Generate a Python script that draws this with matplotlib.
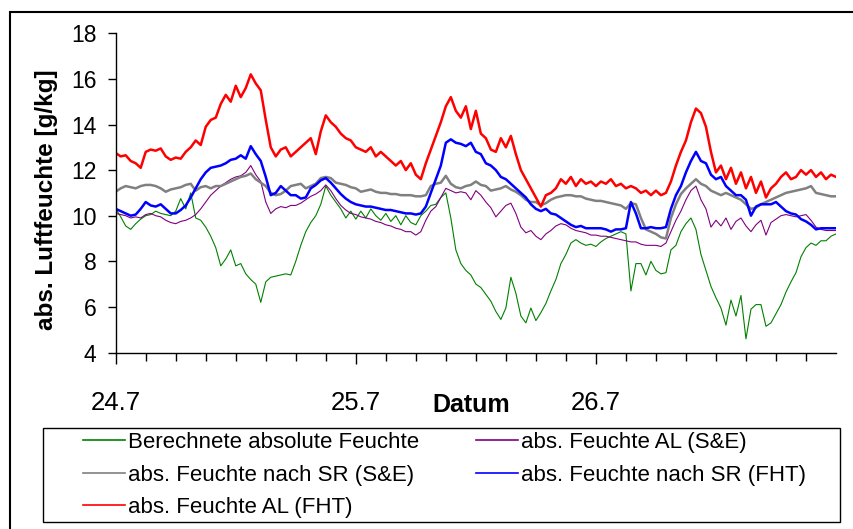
import numpy as np
import matplotlib
matplotlib.use("Agg")
import matplotlib.pyplot as plt
from matplotlib.patches import Rectangle
from matplotlib.lines import Line2D

# # Data (half-hourly readings, 24.7. 0:00 to 27.7. 0:00) ______________________________________________
hours = np.arange(0, 72.5, 0.5)

day_labels = ["24.7", "25.7", "26.7"]

# Berechnete absolute Feuchte
green = [10.3, 9.95, 9.55, 9.4, 9.65, 9.85, 10.0, 10.05, 10.2, 10.1, 10.05, 10.0,
         10.2, 10.75, 10.3, 11.0, 9.9, 9.8, 9.5, 9.1, 8.6, 7.8, 8.1, 8.5,
         7.8, 7.9, 7.45, 7.2, 7.0, 6.2, 7.1, 7.3, 7.35, 7.4, 7.45, 7.4,
         8.0, 8.7, 9.3, 9.7, 10.0, 10.5, 11.3, 10.9, 10.6, 10.3, 9.9, 10.2,
         9.85, 10.2, 9.9, 10.3, 10.0, 9.8, 10.1, 9.75, 10.0, 9.6, 10.0, 9.7,
         9.6, 10.0, 10.2, 10.45, 10.5, 10.8, 11.0, 9.9, 8.5, 7.9, 7.6, 7.4,
         7.0, 6.85, 6.55, 6.25, 5.8, 5.45, 5.95, 7.3, 6.6, 5.6, 5.3, 5.95,
         5.4, 5.75, 6.15, 6.7, 7.2, 7.9, 8.3, 8.8, 8.95, 8.8, 8.7, 8.75,
         8.65, 8.85, 9.0, 9.1, 9.2, 9.3, 9.2, 6.7, 7.9, 7.9, 7.4, 8.0,
         7.6, 7.45, 7.5, 8.5, 8.7, 9.3, 9.65, 9.9, 9.4, 8.3, 7.6, 6.9,
         6.4, 5.95, 5.2, 6.3, 5.6, 6.5, 4.6, 5.9, 6.1, 6.1, 5.15, 5.3,
         5.7, 6.1, 6.65, 7.1, 7.5, 8.2, 8.6, 8.8, 8.7, 8.9, 8.9, 9.1,
         9.2]

# abs. Feuchte AL (S&E)
purple = [10.1, 10.05, 10.0, 9.9, 9.95, 9.9, 10.05, 10.1, 10.0, 9.95, 9.8, 9.7,
          9.65, 9.75, 9.8, 9.9, 10.05, 10.3, 10.6, 10.9, 11.1, 11.3, 11.45, 11.6,
          11.7, 11.75, 11.9, 12.2, 11.8, 11.5, 10.6, 10.1, 10.3, 10.4, 10.35, 10.45,
          10.45, 10.55, 10.7, 10.85, 10.95, 11.1, 11.35, 11.1, 10.75, 10.45, 10.25, 10.1,
          10.05, 9.95, 9.9, 9.85, 9.75, 9.7, 9.6, 9.55, 9.45, 9.4, 9.3, 9.3,
          9.15, 9.3, 9.8, 10.2, 10.4, 10.8, 11.2, 11.1, 11.0, 11.05, 11.0, 10.7,
          11.1, 10.9, 10.6, 10.35, 9.95, 10.2, 10.45, 10.55, 10.1, 9.5, 9.25, 9.35,
          9.1, 8.95, 9.2, 9.35, 9.55, 9.65, 9.6, 9.45, 9.35, 9.3, 9.25, 9.15,
          9.15, 9.1, 9.1, 9.05, 9.0, 8.95, 8.9, 8.85, 8.85, 8.75, 8.7, 8.7,
          8.7, 8.65, 8.8, 9.3, 9.8, 10.2, 10.7, 11.1, 11.3, 10.7, 10.3, 9.5,
          9.8, 9.55, 9.9, 9.4, 9.75, 9.9, 9.55, 9.3, 9.6, 9.8, 9.15, 9.7,
          9.85, 10.0, 10.05, 10.0, 9.95, 10.0, 10.05, 9.8, 9.5, 9.4, 9.35, 9.35,
          9.35]

# abs. Feuchte nach SR (S&E)
gray = [11.05, 11.2, 11.3, 11.25, 11.2, 11.3, 11.35, 11.35, 11.3, 11.2, 11.05, 11.15,
        11.2, 11.25, 11.35, 11.4, 11.1, 11.25, 11.3, 11.2, 11.3, 11.3, 11.4, 11.5,
        11.6, 11.7, 11.75, 11.85, 11.6, 11.45, 11.3, 11.0, 10.9, 10.95, 11.1, 11.3,
        11.35, 11.4, 11.2, 11.3, 11.4, 11.65, 11.7, 11.65, 11.45, 11.4, 11.35, 11.25,
        11.2, 11.05, 11.1, 11.15, 11.05, 11.0, 11.0, 10.95, 10.95, 10.9, 10.9, 10.9,
        10.85, 10.85, 10.9, 11.3, 11.4, 11.45, 11.75, 11.4, 11.25, 11.2, 11.3, 11.35,
        11.5, 11.35, 11.3, 11.1, 11.15, 11.2, 11.3, 11.15, 11.05, 10.9, 10.7, 10.6,
        10.6, 10.45, 10.55, 10.7, 10.8, 10.85, 10.9, 10.9, 10.85, 10.85, 10.75, 10.7,
        10.65, 10.65, 10.6, 10.55, 10.5, 10.45, 10.3, 10.55, 10.5, 9.9, 9.4, 9.3,
        9.2, 9.05, 9.0, 9.9, 10.5, 10.95, 11.2, 11.4, 11.6, 11.4, 11.3, 11.1,
        11.0, 10.9, 11.0, 10.9, 10.8, 10.7, 10.5, 10.3, 10.35, 10.5, 10.6, 10.7,
        10.8, 10.9, 11.0, 11.05, 11.1, 11.15, 11.2, 11.3, 11.0, 10.95, 10.9, 10.85,
        10.85]

# abs. Feuchte nach SR (FHT)
blue = [10.3, 10.2, 10.1, 10.0, 10.05, 10.3, 10.6, 10.45, 10.4, 10.5, 10.3, 10.1,
        10.1, 10.25, 10.45, 10.8, 11.2, 11.6, 11.9, 12.1, 12.15, 12.2, 12.3, 12.45,
        12.5, 12.65, 12.5, 13.05, 12.7, 12.4, 11.7, 10.9, 11.0, 11.3, 11.1, 10.9,
        10.9, 10.75, 10.8, 11.2, 11.35, 11.55, 11.65, 11.45, 11.2, 10.95, 10.75, 10.6,
        10.5, 10.45, 10.4, 10.4, 10.35, 10.3, 10.25, 10.25, 10.2, 10.15, 10.1, 10.1,
        10.05, 10.1, 10.4, 11.0, 11.6, 12.2, 13.2, 13.35, 13.2, 13.15, 13.05, 13.2,
        12.8, 12.7, 12.3, 12.2, 12.0, 11.7, 11.6, 11.4, 11.2, 11.0, 10.8, 10.5,
        10.3, 10.2, 10.3, 10.1, 10.05, 9.9, 9.75, 9.6, 9.5, 9.55, 9.45, 9.45,
        9.45, 9.45, 9.4, 9.3, 9.4, 9.4, 9.45, 10.6, 10.1, 9.45, 9.45, 9.5,
        9.45, 9.45, 9.5, 10.3, 10.9, 11.3, 11.9, 12.4, 12.8, 12.4, 12.3, 11.8,
        11.6, 11.7, 11.3, 11.1, 10.9, 10.9, 10.7, 10.0, 10.4, 10.5, 10.5, 10.5,
        10.6, 10.4, 10.2, 10.1, 10.05, 9.85, 9.75, 9.6, 9.4, 9.45, 9.45, 9.45,
        9.45]

# abs. Feuchte AL (FHT)
red = [12.75, 12.6, 12.65, 12.4, 12.3, 12.1, 12.8, 12.9, 12.85, 12.95, 12.6, 12.45,
       12.55, 12.5, 12.8, 13.0, 13.3, 13.1, 13.9, 14.2, 14.3, 14.9, 15.3, 15.0,
       15.7, 15.2, 15.6, 16.2, 15.8, 15.5, 14.2, 13.0, 12.6, 12.9, 13.0, 12.6,
       12.8, 13.0, 13.2, 13.4, 12.7, 13.7, 14.4, 14.1, 13.9, 13.6, 13.4, 13.3,
       13.0, 12.9, 12.8, 13.0, 12.6, 12.8, 12.6, 12.4, 12.2, 12.4, 12.0, 12.3,
       11.8, 11.6, 12.3, 12.9, 13.5, 14.1, 14.8, 15.2, 14.6, 14.3, 14.8, 13.8,
       14.6, 13.6, 13.4, 12.9, 12.8, 13.4, 13.0, 13.5, 12.7, 12.0, 11.6, 11.2,
       10.8, 10.4, 10.9, 11.0, 11.2, 11.6, 11.4, 11.7, 11.3, 11.6, 11.4, 11.5,
       11.3, 11.5, 11.4, 11.6, 11.3, 11.4, 11.2, 11.3, 11.2, 11.0, 11.1, 10.9,
       11.1, 10.9, 11.0, 11.5, 12.2, 12.8, 13.3, 14.1, 14.7, 14.5, 13.9, 12.8,
       11.9, 12.2, 11.6, 12.1, 11.4, 11.9, 11.2, 11.7, 11.0, 11.5, 10.8, 11.2,
       11.4, 11.7, 11.9, 11.6, 11.7, 12.0, 11.8, 12.0, 11.7, 11.9, 11.6, 11.8,
       11.7]

labels = ["Berechnete absolute Feuchte", "abs. Feuchte AL (S&E)",
          "abs. Feuchte nach SR (S&E)", "abs. Feuchte nach SR (FHT)",
          "abs. Feuchte AL (FHT)"]

# # Figure ______________________________________________________________________________________________
plt.rcParams['font.family'] = ['Liberation Sans', 'DejaVu Sans']
W, H = 854, 529
fig = plt.figure(figsize=(W / 100, H / 100), dpi=100)
ax = fig.add_axes([115.7 / W, 1 - 352.5 / H, (836 - 115.7) / W, (352.5 - 33.3) / H])

days = hours / 24.0
ax.plot(days, green, color="#008000", lw=0.8)
ax.plot(days, purple, color="#800080", lw=0.8)
ax.plot(days, gray, color="#808080", lw=1.8)
ax.plot(days, blue, color="#0000ff", lw=1.8)
ax.plot(days, red, color="#ff0000", lw=1.8)

ax.set_xlim(0, 3)
ax.set_ylim(4, 18)
ax.set_yticks(np.arange(4, 19, 2))
ax.set_xticks([0, 1, 2])
ax.set_xticklabels(day_labels)
ax.set_xticks([i / 8 for i in range(24) if i % 8], minor=True)

for s in ["top", "right"]:
    ax.spines[s].set_visible(False)
for s in ["left", "bottom"]:
    ax.spines[s].set_linewidth(1.0)
ax.tick_params(axis="y", direction="out", length=6, width=1, labelsize=16.5, pad=8)
ax.tick_params(axis="x", which="major", direction="out", length=8, width=1, labelsize=18.5, pad=20)
ax.tick_params(axis="x", which="minor", direction="out", length=6, width=1)

ax.set_xlabel("Datum", fontsize=18, fontweight="bold")
ax.xaxis.set_label_coords(0.493, -0.127)
fig.text(47 / W, 1 - 200 / H, "abs. Luftfeuchte [g/kg]", rotation=90, fontsize=17.5,
         fontweight="bold", ha="center", va="center")

# # Legend ______________________________________________________________________________________________
cols = ["#008000", "#800080", "#808080", "#0000ff", "#ff0000"]
handles = [Line2D([], [], color=c, lw=1.2) for c in cols]
order = [0, 2, 4, 1, 3]
leg = fig.legend([handles[i] for i in order], [labels[i] for i in order],
                 loc="upper left", bbox_to_anchor=(83 / W, 1 - 432 / H), ncol=2,
                 frameon=False, borderpad=0, borderaxespad=0,
                 handlelength=1.9, handletextpad=0.14, columnspacing=2.55,
                 labelspacing=0.52, prop={"size": 16})

fig.patches.append(Rectangle((43 / W, 1 - 522 / H), (840 - 43) / W, (522 - 428) / H,
                             transform=fig.transFigure, fill=False, ec="black", lw=1.0))
fig.patches.append(Rectangle((10 / W, -0.2), 1.2, 1 - 12 / H + 0.2,
                             transform=fig.transFigure, fill=False, ec="black", lw=1.5))

fig.savefig("out.png", dpi=100)
